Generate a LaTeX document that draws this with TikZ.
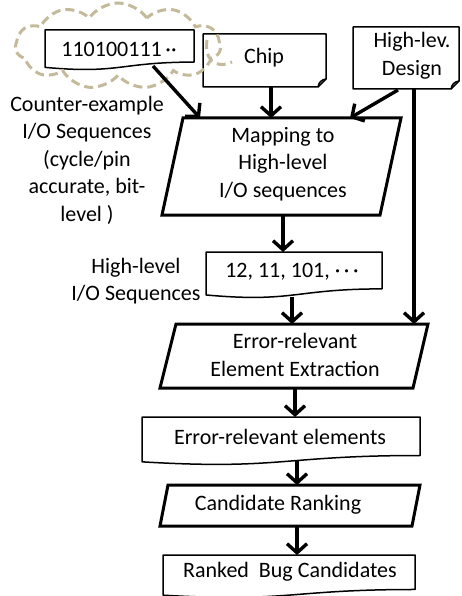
\documentclass[tikz,border=0pt]{standalone}
\usepackage{fontspec}
\setmainfont{Carlito}
\usetikzlibrary{arrows.meta,shapes.symbols}
\definecolor{cloudtan}{RGB}{196,186,155}

% document box with the wavy bottom edge: left, top, right, nominal height
\newcommand\flowdoc[4]{%
  \draw[docline] (#1,#2) -- (#3,#2) -- (#3,{#2+0.802*#4})
    .. controls ({(#1+#3)/2},{#2+0.802*#4}) and ({(#1+#3)/2},{#2+1.107*#4})
    .. (#1,{#2+0.934*#4}) -- cycle;}
% box with a folded bottom-right corner: left, top, right, bottom
\newcommand\foldbox[4]{%
  \draw[docline] (#1,#2) -- (#3,#2) -- (#3,{#4-8}) -- ({#3-8},#4) -- (#1,#4) -- cycle;
  \draw[docline] ({#3-8},#4) .. controls ({#3-7},{#4-5}) and ({#3-5},{#4-7}) .. (#3,{#4-8});}

\begin{document}
\begin{tikzpicture}[x=1pt,y=-1pt,
  docline/.style={draw=black,line width=1.5pt,line join=round},
  procline/.style={draw=black,line width=3pt,line join=miter},
  txt/.style={font=\fontsize{22}{27.5}\selectfont,align=center,inner sep=0pt},
  cloudline/.style={draw=cloudtan,line width=3pt,dash pattern=on 9pt off 5pt},
  flow/.style={line width=3.4pt,-{Straight Barb[length=9pt,width=20pt,line width=3.4pt]}}]
\useasboundingbox (0,0) rectangle (462,596);

% ---- inputs ----
\flowdoc{45}{30}{194}{40}
\node[txt] (cex) at (119,49) {110100111\,··};
\coordinate (cex-s) at (153,66);

\foldbox{203}{34}{326}{87}
\node[txt] (chip) at (264,58) {Chip};
\coordinate (chip-s) at (271,87);

\foldbox{353}{27}{459}{89}
\node[txt] (hld) at (412,56) {High-lev.\\Design};
\coordinate (hld-sw) at (398,90);
\coordinate (hld-s) at (414,89);

% dashed cloud around the bit-level sequence, with its small curl on the right
\node[cloud, cloud puffs=11, cloud puff arc=110, cloudline,
      minimum width=205pt, minimum height=86pt, inner sep=0pt] (cloud) at (118,46) {};
\draw[cloudline] (207,40) .. controls (204,58) and (214,70) .. (232,62);

\node[txt] (cexlbl) at (87,160) {Counter-example\\I/O Sequences\\(cycle/pin\\accurate, bit-\\level )};

% ---- mapping step ----
\draw[procline] (183,118) -- (401,118) -- (380,215) -- (162,215) -- cycle;
\node[txt] (map) at (283,164) {Mapping to\\High-level\\I/O sequences};
\coordinate (map-n1) at (200,118);
\coordinate (map-n2) at (271,118);
\coordinate (map-n3) at (350,118);
\coordinate (map-s) at (283,215);

% ---- high-level sequences ----
\flowdoc{206}{252}{382}{46}
\node[txt] (hls) at (292,272) {12, 11, 101, ·\,·\,·};
\node[txt] (hlslbl) at (136,281) {High-level\\I/O Sequences};
\coordinate (hls-n) at (283,252);
\coordinate (hls-s) at (292,297);

% ---- extraction step ----
\draw[procline] (176,324) -- (428,324) -- (413,388) -- (160,388) -- cycle;
\node[txt] (ext) at (295,355) {Error-relevant\\Element Extraction};
\coordinate (ext-n1) at (292,324);
\coordinate (ext-n2) at (414,324);
\coordinate (ext-s) at (295,388);

% ---- error-relevant elements ----
\flowdoc{142}{417}{420}{48}
\node[txt] (ere) at (280,437) {Error-relevant elements};
\coordinate (ere-n) at (295,417);
\coordinate (ere-s) at (297,460);

% ---- ranking step ----
\draw[procline] (168,485) -- (420,485) -- (412,526) -- (160,526) -- cycle;
\node[txt] (rank) at (278,505) {Candidate Ranking};
\coordinate (rank-n) at (297,485);
\coordinate (rank-s) at (297,526);

% ---- result ----
\flowdoc{163}{555}{415}{43}
\node[txt] (res) at (290,572) {Ranked\ \ Bug Candidates};
\coordinate (res-n) at (297,555);

% ---- connectors ----
\draw[flow] (cex-s) -- (map-n1);
\draw[flow] (chip-s) -- (map-n2);
\draw[flow] (hld-sw) -- (map-n3);
\draw[flow] (hld-s) -- (ext-n2);
\draw[flow] (map-s) -- (hls-n);
\draw[flow] (hls-s) -- (ext-n1);
\draw[flow] (ext-s) -- (ere-n);
\draw[flow] (ere-s) -- (rank-n);
\draw[flow] (rank-s) -- (res-n);
\end{tikzpicture}
\end{document}
